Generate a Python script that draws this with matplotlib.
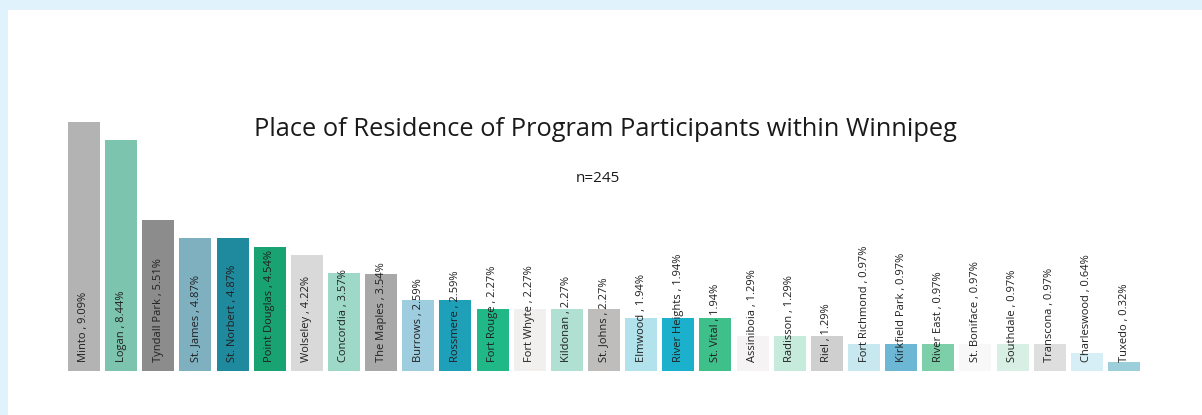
import matplotlib
matplotlib.use("Agg")
import matplotlib.pyplot as plt
from matplotlib.patches import Rectangle

categories = ["Minto", "Logan", "Tyndall Park", "St. James", "St. Norbert", "Point Douglas",
              "Wolseley", "Concordia", "The Maples", "Burrows", "Rossmere", "Fort Rouge",
              "Fort Whyte", "Kildonan", "St. Johns", "Elmwood", "River Heights", "St. Vital",
              "Assiniboia", "Radisson", "Riel", "Fort Richmond", "Kirkfield Park", "River East",
              "St. Boniface", "Southdale", "Transcona", "Charleswood", "Tuxedo"]
values = [9.09, 8.44, 5.51, 4.87, 4.87, 4.54, 4.22, 3.57, 3.54, 2.59, 2.59, 2.27,
          2.27, 2.27, 2.27, 1.94, 1.94, 1.94, 1.29, 1.29, 1.29, 0.97, 0.97, 0.97,
          0.97, 0.97, 0.97, 0.64, 0.32]
colors = ["#b3b3b3", "#7cc4ad", "#8c8c8c", "#7fb0c0", "#1f8a9e", "#1aa372",
          "#d9d9d9", "#9dd9c6", "#a8a8a8", "#9fcde0", "#1ea0b8", "#20b887",
          "#f2efef", "#b0e0d2", "#bfbcbc", "#b2e2ec", "#1bb0cc", "#3fbf8a",
          "#f5f3f3", "#c6eadc", "#cfcfcf", "#c8e8f0", "#6cb8d4", "#7ccfa8",
          "#f8f8f8", "#d8efe6", "#dedede", "#d6eef6", "#9dcfda"]
title = "Place of Residence of Program Participants within Winnipeg"
subtitle = "n=245"

W, H = 1202, 415
fig = plt.figure(figsize=(W / 100, H / 100), dpi=100)
fig.patch.set_facecolor("white")

# light blue frame (top and left)
fig.add_artist(Rectangle((0, 1 - 10 / H), 1, 10 / H, transform=fig.transFigure,
                         facecolor="#e0f2fb", edgecolor="none"))
fig.add_artist(Rectangle((0, 0), 8 / W, 1, transform=fig.transFigure,
                         facecolor="#e0f2fb", edgecolor="none"))

bw = 0.86
pad = 0.2
unit = (1140 - 68) / (len(categories) - 1 + bw)
x0 = -bw / 2 - pad
x1 = len(categories) - 1 + bw / 2 + pad
left_px = 68 - pad * unit
width_px = (x1 - x0) * unit
ymax = 10.0
ppu = 27.4
bottom_px = H - 371
ax = fig.add_axes([left_px / W, bottom_px / H, width_px / W, ymax * ppu / H])
ax.set_xlim(x0, x1)
ax.set_ylim(0, ymax)
ax.axis("off")

xs = list(range(len(categories)))
ax.bar(xs, values, width=bw, color=colors, edgecolor="none")
for x, c, v in zip(xs, categories, values):
    ax.text(x, 0.33, f"{c} , {v:.2f}%", rotation=90, ha="center", va="bottom",
            fontsize=8, color="#1f1f1f", family=["Open Sans", "DejaVu Sans"])

fig.text(605 / W, 1 - 129 / H, title, ha="center", va="center", fontsize=18.3,
         color="#1a1a1a", family=["Open Sans", "DejaVu Sans"])
fig.text(598 / W, 1 - 178 / H, subtitle, ha="center", va="center", fontsize=11,
         color="#1a1a1a", family=["Open Sans", "DejaVu Sans"])

fig.savefig("out.png", dpi=100)
